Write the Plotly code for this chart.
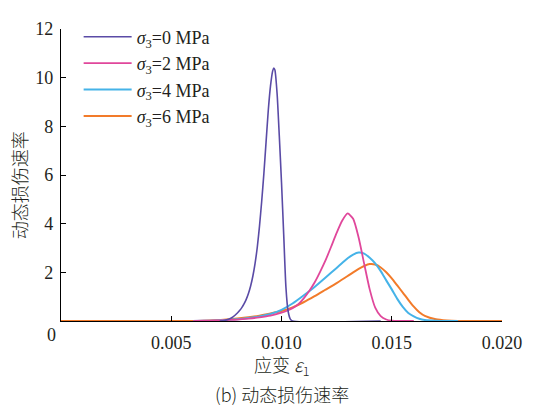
import plotly.graph_objects as go

# ---- data ----
legend_labels = ["<i>σ</i><sub>3</sub>=0 MPa", "<i>σ</i><sub>3</sub>=2 MPa",
                 "<i>σ</i><sub>3</sub>=4 MPa", "<i>σ</i><sub>3</sub>=6 MPa"]

strain_0 = [0.0072, 0.0074, 0.0076, 0.0078, 0.0080, 0.0081, 0.0082, 0.0083, 0.0084,
            0.0085, 0.0086, 0.0087, 0.0088, 0.0089, 0.0090, 0.0091, 0.0092, 0.0093,
            0.0094, 0.0095, 0.0096, 0.00965, 0.0097, 0.0098, 0.0099, 0.0100, 0.0101,
            0.0102, 0.0103, 0.0104, 0.0105, 0.0145]
rate_0 = [0.0, 0.02, 0.07, 0.17, 0.33, 0.43, 0.55, 0.70, 0.89, 1.13, 1.44, 1.84, 2.36,
          3.02, 3.88, 4.90, 6.05, 7.35, 8.65, 9.65, 10.28, 10.40, 10.32, 9.35, 7.60,
          5.70, 3.55, 1.40, 0.40, 0.08, 0.0, 0.0]

strain_2 = [0.0060, 0.0065, 0.0070, 0.0075, 0.0080, 0.0085, 0.0090, 0.0095, 0.0100,
            0.01025, 0.0105, 0.01075, 0.0110, 0.01125, 0.0115, 0.01175, 0.0120,
            0.01225, 0.0125, 0.01275, 0.0130, 0.01325, 0.0135, 0.01375, 0.0140,
            0.01425, 0.0145, 0.01475, 0.0150, 0.0155, 0.0160]
rate_2 = [0.0, 0.01, 0.02, 0.04, 0.06, 0.10, 0.15, 0.22, 0.34, 0.42, 0.53, 0.68, 0.92,
          1.22, 1.58, 2.02, 2.50, 3.05, 3.62, 4.12, 4.42, 4.20, 3.42, 2.35, 1.30,
          0.55, 0.20, 0.06, 0.01, 0.0, 0.0]

strain_4 = [0.0060, 0.0065, 0.0070, 0.0075, 0.0080, 0.0085, 0.0090, 0.0095, 0.0100,
            0.0105, 0.0110, 0.0115, 0.0120, 0.0125, 0.01275, 0.0130, 0.01325, 0.0135,
            0.01375, 0.0140, 0.01425, 0.0145, 0.01475, 0.0150, 0.01525, 0.0155,
            0.01575, 0.0160, 0.01625, 0.0165, 0.0170, 0.0175, 0.0180]
rate_4 = [0.0, 0.01, 0.02, 0.04, 0.07, 0.12, 0.19, 0.29, 0.46, 0.72, 1.05, 1.40, 1.79,
          2.18, 2.38, 2.58, 2.73, 2.81, 2.77, 2.60, 2.37, 2.05, 1.67, 1.30, 0.91,
          0.58, 0.33, 0.19, 0.09, 0.04, 0.01, 0.0, 0.0]

strain_6 = [0.0, 0.0060, 0.0065, 0.0070, 0.0075, 0.0080, 0.0085, 0.0090, 0.0095,
            0.0100, 0.0105, 0.0110, 0.0115, 0.0120, 0.0125, 0.0130, 0.01325, 0.0135,
            0.01375, 0.0140, 0.01425, 0.0145, 0.01475, 0.0150, 0.01525, 0.0155,
            0.01575, 0.0160, 0.01625, 0.0165, 0.0170, 0.0175, 0.0180, 0.0200]
rate_6 = [0.0, 0.0, 0.01, 0.03, 0.06, 0.10, 0.15, 0.22, 0.31, 0.41, 0.56, 0.77, 1.02,
          1.29, 1.56, 1.85, 2.00, 2.14, 2.26, 2.34, 2.32, 2.20, 2.00, 1.75, 1.46,
          1.17, 0.87, 0.59, 0.36, 0.21, 0.07, 0.02, 0.0, 0.0]

x_ticks = [0.005, 0.010, 0.015, 0.020]
x_tick_labels = ["0.005", "0.010", "0.015", "0.020"]
y_ticks = [2, 4, 6, 8, 10, 12]
y_tick_labels = ["2", "4", "6", "8", "10", "12"]

x_title = "应变 <i>ε</i><sub>1</sub>"
y_title = "动态损伤速率"
caption = "(b) 动态损伤速率"

colors = ["#5a4ba6", "#e0479b", "#45b3e8", "#f27b2a"]
widths = [1.6, 1.8, 2.0, 2.0]

serif = "Liberation Serif"
cjk = "Noto Sans CJK SC"
txt_color = "#231f20"

fig = go.Figure()
data_sets = [(strain_0, rate_0), (strain_2, rate_2), (strain_4, rate_4), (strain_6, rate_6)]
# draw orange first so purple stays on top
for i in [3, 2, 1, 0]:
    xs, ys = data_sets[i]
    fig.add_trace(go.Scatter(
        x=xs, y=ys, mode="lines", name=legend_labels[i],
        line=dict(color=colors[i], width=widths[i], shape="spline", smoothing=0.6),
    ))

axis_common = dict(
    showline=True, linecolor="black", linewidth=1.2, mirror=False,
    ticks="inside", ticklen=5, tickcolor="black", tickwidth=1.2,
    showgrid=False, zeroline=False,
    tickfont=dict(family=serif, size=18, color=txt_color),
)

# the page body adds an 8px margin, so the figure is 8px smaller and shifted
fig.update_layout(
    width=531, height=402,
    margin=dict(l=53, r=37, t=10, b=89),
    paper_bgcolor="white", plot_bgcolor="white",
    xaxis=dict(range=[0, 0.020], tickvals=x_ticks, ticktext=x_tick_labels,
               ticklabelstandoff=5, **axis_common),
    yaxis=dict(range=[0, 12], tickvals=y_ticks, ticktext=y_tick_labels,
               ticklabelstandoff=3, **axis_common),
    legend=dict(x=0.04, y=1.036, xanchor="left", yanchor="top",
                traceorder="reversed", bgcolor="rgba(0,0,0,0)",
                font=dict(family=serif, size=18, color=txt_color),
                tracegroupgap=0, itemwidth=48),
    showlegend=True,
)

fig.add_annotation(x=0, y=0, xref="x", yref="y", text="0", showarrow=False,
                   xanchor="center", yanchor="middle", xshift=-10, yshift=-14,
                   font=dict(family=serif, size=18, color=txt_color))
fig.add_annotation(x=0.5, y=-0.152, xref="paper", yref="paper", text=x_title,
                   showarrow=False, xanchor="center", yanchor="middle",
                   font=dict(family=cjk, size=18, color=txt_color, weight=300))
fig.add_annotation(x=0.5, y=-0.251, xref="paper", yref="paper", text=caption,
                   showarrow=False, xanchor="center", yanchor="middle",
                   font=dict(family=cjk, size=18, color=txt_color, weight=300))
fig.add_annotation(x=0, y=0.465, xref="paper", yref="paper", text=y_title,
                   showarrow=False, xanchor="center", yanchor="middle", textangle=-90,
                   xshift=-42,
                   font=dict(family=cjk, size=18, color=txt_color, weight=300))

fig.write_html("out.html")
